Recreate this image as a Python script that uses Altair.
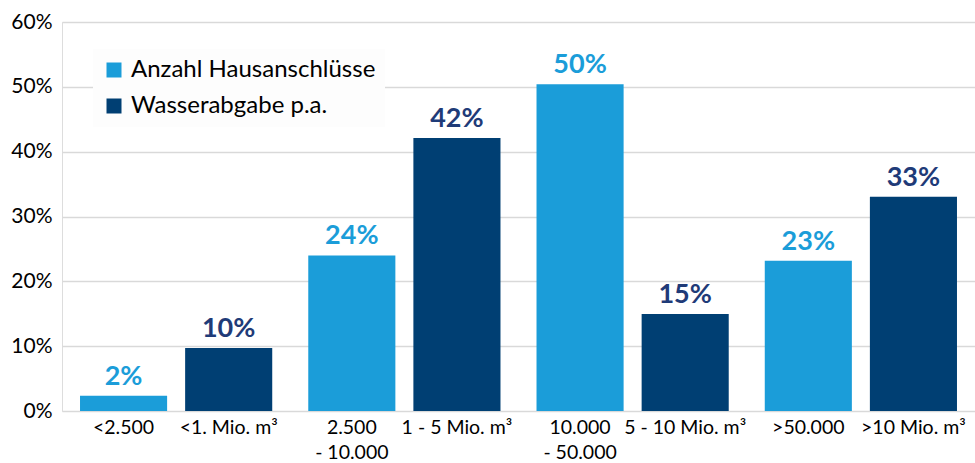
import altair as alt
import pandas as pd

# ---- data ----
categories = ["<2.500", "<1. Mio. m³", "2.500\n- 10.000", "1 - 5 Mio. m³",
              "10.000\n- 50.000", "5 - 10 Mio. m³", ">50.000", ">10 Mio. m³"]
groups = ["G1", "G1", "G2", "G2", "G3", "G3", "G4", "G4"]
series_names = ["Anzahl Hausanschlüsse", "Wasserabgabe p.a."]
series = series_names * 4
values = [0.0236, 0.0973, 0.240, 0.4209, 0.504, 0.1498, 0.2316, 0.3304]
y_ticks = [0, 0.1, 0.2, 0.3, 0.4, 0.5, 0.6]

bar_colors = ["#1B9DD9", "#003F73"]
label_colors = ["#1B9DD9", "#1F3B78"]

df = pd.DataFrame({
    "category": categories,
    "group": groups,
    "series": series,
    "value": values,
})

FONT = "Lato"

x_enc = alt.X("group:N", axis=None,
              scale=alt.Scale(paddingInner=0, paddingOuter=0))
xoff_enc = alt.XOffset("series:N", sort=series_names,
                       scale=alt.Scale(domain=series_names,
                                       paddingInner=0.1714, paddingOuter=0.1714))
y_enc = alt.Y("value:Q",
              scale=alt.Scale(domain=[0, 0.6], nice=False, zero=True),
              axis=alt.Axis(values=y_ticks, format=".0%", title=None,
                            domain=False, ticks=False, grid=True,
                            gridColor="#D9D9D9", gridWidth=1.3,
                            labelFont=FONT, labelFontSize=21,
                            labelColor="#000000", labelPadding=10))

base = alt.Chart(df).encode(x=x_enc, xOffset=xoff_enc)

bars = base.mark_bar().encode(
    y=y_enc,
    color=alt.Color("series:N",
                    scale=alt.Scale(domain=series_names, range=bar_colors),
                    legend=alt.Legend(title=None, orient="none",
                                      legendX=31, legendY=27,
                                      direction="vertical",
                                      fillColor="#FDFDFD",
                                      padding=9, rowPadding=12,
                                      symbolType="square", symbolSize=225,
                                      symbolStrokeWidth=0,
                                      labelFont=FONT, labelFontSize=24,
                                      labelColor="#000000", labelOffset=5,
                                      labelLimit=400)),
)

value_labels = base.mark_text(
    font=FONT, fontSize=27, fontWeight="bold",
    baseline="alphabetic", dy=-11,
).encode(
    y="value:Q",
    text=alt.Text("value:Q", format=".0%"),
    color=alt.Color("series:N",
                    scale=alt.Scale(domain=series_names, range=label_colors),
                    legend=None),
)

cat_labels = base.mark_text(
    font=FONT, fontSize=19.5, baseline="top", dy=8,
    lineBreak="\n", lineHeight=25, color="#000000",
).encode(
    y=alt.datum(0),
    text="category:N",
)

chart = alt.layer(bars, value_labels, cat_labels).resolve_scale(
    color="independent"
).properties(
    width=913, height=389,
    autosize=alt.AutoSizeParams(type="none"),
    padding={"left": 62, "top": 22, "right": 0, "bottom": 52},
).configure_view(stroke=None).configure(background="white")

chart.save("out.html", embed_options={"renderer": "svg", "actions": False})
